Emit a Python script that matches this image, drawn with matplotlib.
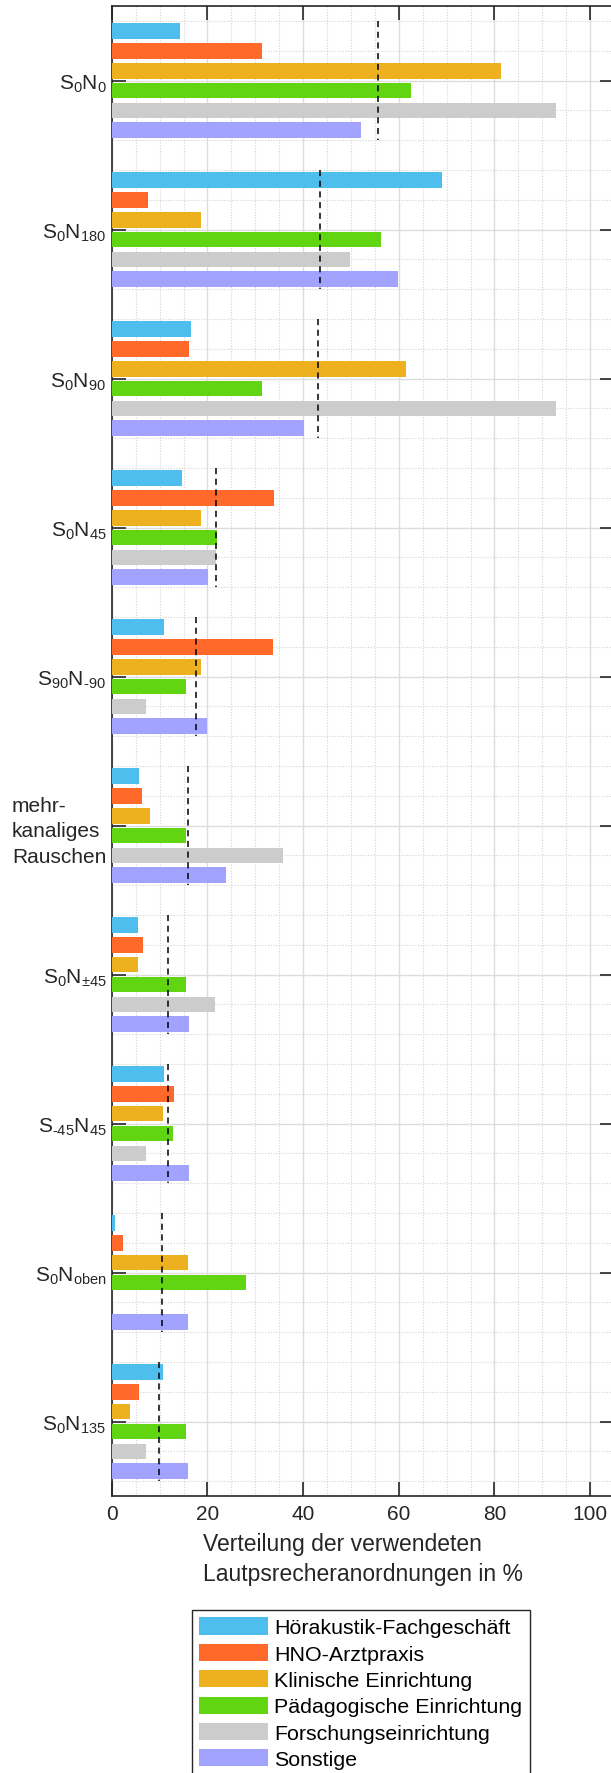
import matplotlib.pyplot as plt
from matplotlib.ticker import MultipleLocator
import numpy as np

plt.rcParams['font.family'] = ['Liberation Sans', 'DejaVu Sans']
plt.rcParams['mathtext.default'] = 'regular'

# Lautsprecheranordnungen (von oben nach unten)
arrangements = [
    r'$S_0N_0$',
    r'$S_0N_{180}$',
    r'$S_0N_{90}$',
    r'$S_0N_{45}$',
    r'$S_{90}N_{‐90}$',
    'mehr-\nkanaliges\nRauschen',
    r'$S_0N_{\pm45}$',
    r'$S_{‐45}N_{45}$',
    r'$S_0N_{oben}$',
    r'$S_0N_{135}$',
]

institutions = [
    'Hörakustik-Fachgeschäft',
    'HNO-Arztpraxis',
    'Klinische Einrichtung',
    'Pädagogische Einrichtung',
    'Forschungseinrichtung',
    'Sonstige',
]

# Anteile in % je Einrichtung (eine Liste pro Einrichtung, Reihenfolge wie arrangements)
hoerakustik = [14.3, 69.1, 16.5, 14.7, 11.0, 5.7, 5.4, 10.9, 0.7, 10.6]
hno = [31.4, 7.5, 16.1, 34.0, 33.6, 6.4, 6.6, 13.0, 2.4, 5.7]
klinik = [81.3, 18.6, 61.5, 18.7, 18.6, 7.9, 5.4, 10.6, 15.9, 3.9]
paedagogik = [62.5, 56.2, 31.4, 22.0, 15.6, 15.6, 15.6, 12.8, 28.0, 15.6]
forschung = [92.8, 49.9, 92.9, 21.7, 7.1, 35.7, 21.5, 7.1, 0.0, 7.1]
sonstige = [52.0, 59.9, 40.2, 20.1, 19.9, 23.9, 16.1, 16.1, 15.9, 15.9]

colors = ['#4DBEEE', '#FF6A2A', '#EDB120', '#62D512', '#CCCCCC', '#A2A2FF']


def draw_bars(ax, series: list):
    """Draws grouped horizontal bars and the mean line of each group.

    Args:
        ax(matplotlib.axes.Axes): Target axes.
        series(list): One list of values per institution.
    """
    positions = np.arange(1, len(arrangements) + 1)
    step = 0.8 / len(series)
    for i, values in enumerate(series):
        offset = (i - (len(series) - 1) / 2) * step
        ax.barh(positions + offset, values, height=step * 0.79,
                color=colors[i], edgecolor='none', label=institutions[i], zorder=3)
    means = np.mean(np.array(series), axis=0)
    for pos, mean in zip(positions, means):
        ax.plot([mean, mean], [pos - 0.4, pos + 0.4], color='black',
                linestyle=(0, (4, 3)), linewidth=1.1, zorder=4)


def config(ax):
    """Axis, grid and label configuration in MATLAB style."""
    ax.set_xlim(0, 105)
    ax.set_ylim(10.5, 0.5)
    ax.set_xticks([0, 20, 40, 60, 80, 100])
    ax.xaxis.set_minor_locator(MultipleLocator(5))
    ax.set_yticks(np.arange(1, len(arrangements) + 1))
    ax.set_yticklabels(arrangements)
    ax.yaxis.set_minor_locator(MultipleLocator(0.2))
    for label in ax.get_yticklabels():
        label.set_multialignment('left')
        label.set_linespacing(1.45)
    ax.tick_params(axis='both', which='major', direction='in', length=10,
                   width=1.2, colors='#262626', labelsize=15, top=True, right=True)
    ax.tick_params(axis='x', which='major', pad=6, labelsize=15)
    ax.tick_params(axis='y', which='major', pad=4)
    ax.tick_params(which='minor', length=0)
    ax.grid(which='major', color='#dcdcdc', linewidth=1.0, zorder=0)
    ax.grid(which='minor', color='#d4d4d4', linestyle=(0, (1, 1.5)), linewidth=0.8, zorder=0)
    ax.set_axisbelow(True)
    for spine in ax.spines.values():
        spine.set_color('#262626')
        spine.set_linewidth(1.2)
    ax.set_xlabel('Verteilung der verwendeten\nLautpsrecheranordnungen in %',
                  fontsize=16.5, color='#262626', multialignment='left',
                  linespacing=1.4, labelpad=6)


fig = plt.figure(figsize=(6.11, 17.74), dpi=100)
ax = fig.add_axes([0.183, 0.1561, 0.822, 0.8399])
draw_bars(ax, [hoerakustik, hno, klinik, paedagogik, forschung, sonstige])
config(ax)
fig.legend(loc='upper left', bbox_to_anchor=(192 / 611, 1 - 1611 / 1774),
           fontsize=15.4, frameon=True, fancybox=False, edgecolor='#262626',
           framealpha=1, handlelength=3.2, handleheight=0.85, handletextpad=0.3,
           labelspacing=0.3, borderpad=0.35, borderaxespad=0)
fig.savefig('out.png', dpi=100)
